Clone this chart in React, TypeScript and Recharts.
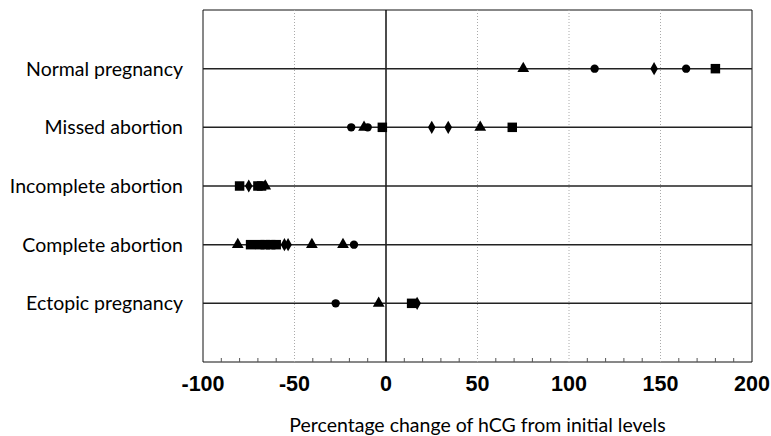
import React from 'react'
import {
  ScatterChart, Scatter, XAxis, YAxis, ReferenceLine, ReferenceArea, Symbols
} from 'recharts'

// y positions 1..5, bottom to top
const groups = ['Ectopic pregnancy', 'Complete abortion', 'Incomplete abortion', 'Missed abortion', 'Normal pregnancy']

const circlePoints = [
  { group: 5, change: 114 }, { group: 5, change: 164 },
  { group: 4, change: -19 }, { group: 4, change: -10 },
  { group: 2, change: -17.5 },
  { group: 1, change: -27.5 },
]
const trianglePoints = [
  { group: 5, change: 75 },
  { group: 4, change: -12 }, { group: 4, change: 51.5 },
  { group: 3, change: -66 },
  { group: 2, change: -81 }, { group: 2, change: -40.5 }, { group: 2, change: -23.5 },
  { group: 1, change: -4 },
]
const squarePoints = [
  { group: 5, change: 180 },
  { group: 4, change: -2 }, { group: 4, change: 69 },
  { group: 3, change: -80 }, { group: 3, change: -70 }, { group: 3, change: -68 },
  { group: 2, change: -74 }, { group: 2, change: -69 }, { group: 2, change: -66 },
  { group: 2, change: -63 }, { group: 2, change: -60 },
  { group: 1, change: 14 },
]
const diamondPoints = [
  { group: 5, change: 146.5 },
  { group: 4, change: 25 }, { group: 4, change: 34 },
  { group: 3, change: -75 },
  { group: 2, change: -55.5 }, { group: 2, change: -53.5 },
  { group: 1, change: 17 },
]

const xTicks = Array.from({ length: 31 }, (_, i) => -100 + i * 10)
const gridX = [-50, 50, 100, 150]

const marker = (type: any, size: number) => (p: any) => (
  <Symbols cx={p.cx} cy={p.cy} type={type} size={size} fill="#000" />
)

const XTick = (props: any) => {
  const { x, y, payload } = props
  const v = payload.value
  const major = v % 50 === 0
  return (
    <g>
      {!major && <line x1={x} x2={x} y1={y} y2={y - 4} stroke="#555" strokeWidth={1} />}
      {major && (
        <text x={x} y={y + 29} textAnchor="middle" fontFamily="'Liberation Sans', Arial, sans-serif"
          fontWeight="bold" fontSize={21.5} fill="#000">{v}</text>
      )}
    </g>
  )
}

export default function App() {
  return (
    <div style={{ position: 'absolute', left: 0, top: 0, background: '#fff' }}>
      <ScatterChart width={771} height={436} margin={{ top: 10, right: 19, left: 23, bottom: 44 }}>
        <XAxis type="number" dataKey="change" domain={[-100, 200]} ticks={xTicks} interval={0} height={30}
          axisLine={false} tickLine={false} tickSize={0} tickMargin={0} tick={<XTick />}
          label={{ value: 'Percentage change of hCG from initial levels', position: 'bottom', offset: 26,
            style: { fontFamily: 'Lato, sans-serif', fontSize: 19.5, fill: '#000' } }} />
        <YAxis type="number" dataKey="group" domain={[0, 6]} ticks={[1, 2, 3, 4, 5]} width={180}
          axisLine={false} tickLine={false} tickSize={0} tickMargin={20}
          tickFormatter={(v: number) => groups[v - 1]}
          tick={{ fontFamily: 'Lato, sans-serif', fontSize: 19.5, fill: '#000' }} />
        <ReferenceArea x1={-100} x2={200} y1={0} y2={6} fill="none" stroke="#111" strokeWidth={1} />
        {gridX.map(v => (
          <ReferenceLine key={v} x={v} stroke="#aaa" strokeDasharray="1 2" strokeWidth={1} />
        ))}
        <ReferenceLine x={0} stroke="#111" strokeWidth={1.5} />
        {[1, 2, 3, 4, 5].map(g => (
          <ReferenceLine key={g} y={g} stroke="#222" strokeWidth={1.5} />
        ))}
        <Scatter data={circlePoints} shape={marker('circle', 55)} isAnimationActive={false} />
        <Scatter data={trianglePoints} shape={marker('triangle', 60)} isAnimationActive={false} />
        <Scatter data={squarePoints} shape={marker('square', 90)} isAnimationActive={false} />
        <Scatter data={diamondPoints} shape={marker('diamond', 50)} isAnimationActive={false} />
      </ScatterChart>
    </div>
  )
}
